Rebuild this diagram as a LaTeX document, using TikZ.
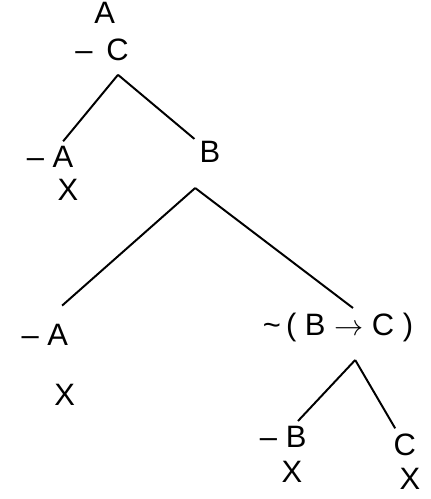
\documentclass[tikz,border=0pt]{standalone}
\usepackage{fontspec}
\setmainfont{Liberation Sans}
\usetikzlibrary{positioning, calc}
\tikzset{
	lbl/.style={font=\fontsize{22}{26}\selectfont, inner sep=2pt},
	cross/.style={font=\fontsize{22}{26}\selectfont, inner sep=1pt},
	branch/.style={line width=1.4pt, color=black, shorten >=2pt}
}

\begin{document}
\begin{tikzpicture}
	\useasboundingbox (0,0) rectangle (10.775,-12.475);
	
	%% root
	\node[lbl] (topA) at (2.62,-0.32) {A};
	\node[lbl] (negC) at (2.55,-1.25) {– \,C};
	\coordinate (apex1) at (2.95,-1.87);
	
	%% first split
	\node[lbl]   (negA1) at (1.25,-3.93) {– A};
	\node[cross] (x1)    at (1.70,-4.75) {X};
	\node[lbl]   (nodeB) at (5.25,-3.80) {B};
	\coordinate (apex2) at (4.88,-4.70);
	
	%% second split
	\node[lbl]   (negA2)  at (1.12,-8.38) {– A};
	\node[cross] (x2)     at (1.62,-9.88) {X};
	\node[lbl]   (negImp) at (8.45,-8.18) {\textasciitilde\,( B $\rightarrow$ C )};
	\coordinate (apex3) at (8.88,-9.00);
	
	%% third split
	\node[lbl]   (negB)  at (7.08,-10.92) {– B};
	\node[cross] (x3)    at (7.30,-11.80) {X};
	\node[lbl]   (nodeC) at (10.12,-11.12) {C};
	\node[cross] (x4)    at (10.25,-11.97) {X};
	
	%% branches
	\draw[branch] (apex1) -- (negA1);
	\draw[branch] (apex1) -- (nodeB);
	\draw[branch] (apex2) -- ($(negA2.north)+(0.38,0.35)$);
	\draw[branch] (apex2) -- (negImp.north -| apex3);
	\draw[branch] (apex3) -- (negB);
	\draw[branch] (apex3) -- (nodeC);
\end{tikzpicture}
\end{document}
